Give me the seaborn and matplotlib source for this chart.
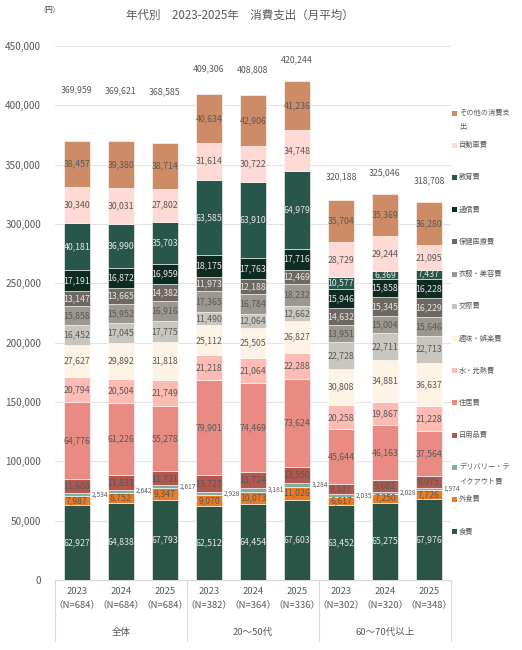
import matplotlib
matplotlib.use("Agg")
import matplotlib.pyplot as plt
import matplotlib.transforms as mtransforms
from matplotlib.patches import Rectangle
import seaborn as sns
import numpy as np
import pandas as pd

sns.set_theme(style="white")
plt.rcParams['font.family'] = ['Noto Sans CJK JP', 'DejaVu Sans']

# ---------------- data ----------------
years = ["2023", "2024", "2025", "2023", "2024", "2025", "2023", "2024", "2025"]
sample_n = [684, 684, 684, 382, 364, 336, 302, 320, 348]
groups = ["全体", "20〜50代", "60〜70代以上"]
categories = ["食費", "外食費", "デリバリー・テイクアウト費", "日用品費", "住居費",
              "水・光熱費", "趣味・娯楽費", "交際費", "衣服・美容費", "保健医療費",
              "通信費", "教育費", "自動車費", "その他の消費支出"]

food       = [62927, 64838, 67793, 62512, 64454, 67603, 63452, 65275, 67976]
dining_out = [7987, 8752, 9347, 9070, 10073, 11026, 6617, 7250, 7726]
delivery   = [2534, 2642, 2617, 2928, 3181, 3284, 2035, 2028, 1974]
daily      = [11688, 11833, 11731, 13727, 13724, 13550, 9107, 9682, 9975]
housing    = [64776, 61226, 55278, 79901, 74469, 73624, 45644, 46163, 37564]
utilities  = [20794, 20504, 21749, 21218, 21064, 22288, 20258, 19867, 21228]
hobby      = [27627, 29892, 31818, 25112, 25505, 26827, 30808, 34881, 36637]
social     = [16452, 17045, 17775, 11490, 12064, 12662, 22728, 22711, 22713]
clothing   = [15858, 15952, 16916, 17365, 16784, 18232, 13951, 15004, 15646]
medical    = [13147, 13665, 14382, 11973, 12188, 12469, 14632, 15345, 16229]
telecom    = [17191, 16872, 16959, 18175, 17763, 17716, 15946, 15858, 16228]
education  = [40181, 36990, 35703, 63585, 63910, 64979, 10577, 6369, 7437]
car        = [30340, 30031, 27802, 31614, 30722, 34748, 28729, 29244, 21095]
other      = [38457, 39380, 38714, 40634, 42906, 41236, 35704, 35369, 36280]
totals     = [369959, 369621, 368585, 409306, 408808, 420244, 320188, 325046, 318708]

series = [food, dining_out, delivery, daily, housing, utilities, hobby, social,
          clothing, medical, telecom, education, car, other]

colors = ["#2A5446", "#E97A26", "#80AF9F", "#B0584F", "#E98B83", "#FDBBB3",
          "#FFF3E6", "#C9C6BF", "#9C978F", "#6E6863", "#0E2B21", "#28564A",
          "#FFD9D5", "#CD8C66"]
light_text = {"食費", "保健医療費", "通信費", "教育費"}

labels = [f"{y}\n（N={n}）" for y, n in zip(years, sample_n)]
df = pd.DataFrame({"label": labels})
for cat, vals in zip(categories, series):
    df[cat] = vals

# ---------------- figure ----------------
W, H = 522, 650
fig = plt.figure(figsize=(W / 100, H / 100), dpi=100)
ax = fig.add_axes([55 / W, 1 - 580 / H, (451 - 55) / W, (580 - 46) / H])

bar_w = 0.61
bottom = np.zeros(len(labels))
text_gray = "#595959"
for cat, col in zip(categories, colors):
    vals = df[cat].to_numpy()
    sns.barplot(data=df, x="label", y=cat, order=labels, color=col, saturation=1,
                width=bar_w, bottom=bottom, edgecolor="white", linewidth=0.4,
                errorbar=None, ax=ax, zorder=3)
    cont = ax.containers[-1]
    if cat == "デリバリー・テイクアウト費":
        for i, (v, b) in enumerate(zip(vals, bottom)):
            ax.annotate(f"{v:,}", xy=(i + bar_w / 2, b + v / 2), xytext=(1.5, 0),
                        textcoords="offset pixels", ha="left", va="center",
                        fontsize=4.8, color=text_gray, zorder=5)
    else:
        ax.bar_label(cont, labels=[f"{v:,}" for v in vals], label_type="center",
                     fontsize=6.3, color=("#E6E6E6" if cat in light_text else text_gray),
                     zorder=5)
    bottom = bottom + vals

# totals above bars
total_offsets = [51, 51, 51, 25, 25, 21, 23, 21, 21]
for i, (t, off) in enumerate(zip(totals, total_offsets)):
    ax.annotate(f"{t:,}", xy=(i, bottom[i]), xytext=(0, off), textcoords="offset pixels",
                ha="center", va="center", fontsize=6.3, color=text_gray)

# axes styling
ax.set_xlim(-0.5, 8.5)
ax.set_ylim(0, 450000)
ax.set_yticks(np.arange(0, 450001, 50000))
ax.set_yticklabels([f"{v:,}" for v in range(0, 450001, 50000)])
ax.grid(axis="y", color="#E3E3E3", linewidth=0.8, zorder=0)
ax.set_axisbelow(True)
for s in ["top", "right", "left"]:
    ax.spines[s].set_visible(False)
ax.spines["bottom"].set_color("#D9D9D9")
ax.spines["bottom"].set_linewidth(0.8)
ax.tick_params(axis="y", length=0, pad=10, labelsize=7.2, labelcolor=text_gray)
ax.tick_params(axis="x", length=0, pad=5, labelsize=6.8, labelcolor=text_gray)
for t in ax.get_xticklabels():
    t.set_linespacing(1.55)
ax.set_xlabel("")
ax.set_ylabel("")

# group separators & group labels
trans = mtransforms.blended_transform_factory(ax.transData, ax.transAxes)
y_low = (580 - 641) / (580 - 46)
for xb in [-0.5, 2.5, 5.5, 8.5]:
    ax.plot([xb, xb], [0, y_low], transform=trans, color="#D9D9D9", linewidth=0.8,
            clip_on=False)
y_grp = (580 - 632) / (580 - 46)
for gi, g in enumerate(groups):
    ax.text(gi * 3 + 1, y_grp, g, transform=trans, ha="center", va="center",
            fontsize=6.8, color=text_gray)

# title & unit
fig.text(240 / W, 1 - 15 / H, "年代別　2023-2025年　消費支出（月平均）", ha="center",
         va="center", fontsize=8.3, color=text_gray)
fig.text(49 / W, 1 - 11 / H, "(円)", ha="center", va="center", fontsize=5.3,
         color="#404040")

# legend (top to bottom, reversed stack order)
legend_lines = {"その他の消費支出": ["その他の消費支", "出"],
                "デリバリー・テイクアウト費": ["デリバリー・テ", "イクアウト費"]}
for i, (cat, col) in enumerate(zip(categories[::-1], colors[::-1])):
    yp = 113 + i * 32.2
    fig.add_artist(Rectangle((452 / W, 1 - (yp + 2.5) / H), 5 / W, 5 / H,
                             transform=fig.transFigure, facecolor=col, edgecolor="none"))
    for li, line in enumerate(legend_lines.get(cat, [cat])):
        fig.text(459 / W, 1 - (yp + li * 13.5) / H, line, ha="left", va="center",
                 fontsize=5.2, color=text_gray)

fig.savefig("out.png", dpi=100)
